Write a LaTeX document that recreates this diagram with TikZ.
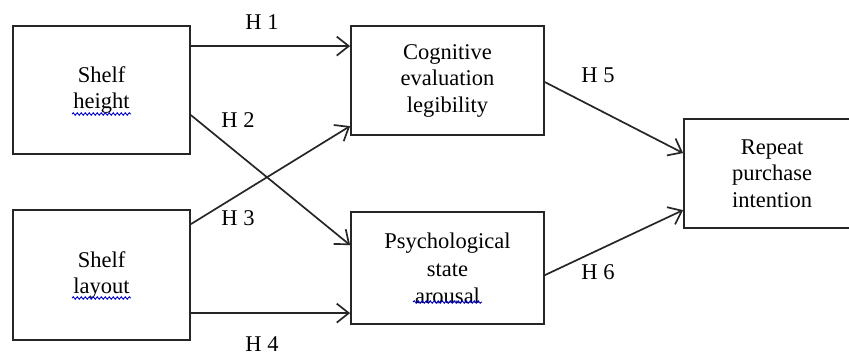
\documentclass[tikz,border=0pt]{standalone}
\usepackage{fontspec}
\setmainfont{Liberation Serif}
\usetikzlibrary{arrows.meta,decorations.pathmorphing}
\begin{document}
\begin{tikzpicture}[x=1pt,y=-1pt,
  box/.style={draw=black!85,line width=1.8pt,align=center,inner sep=0pt,
    font=\fontsize{22.5}{26.5}\selectfont},
  arr/.style={draw=black!85,line width=1.7pt,-{Straight Barb[length=12pt,width=19pt,line width=1.7pt]}},
  lbl/.style={font=\fontsize{22.5}{26.5}\selectfont,inner sep=0pt},
  wave/.style={draw=blue!80!black,line width=0.9pt,decorate,
    decoration={snake,amplitude=1.2pt,segment length=4pt}}]
\useasboundingbox (0,0) rectangle (849,356);
\clip (0,0) rectangle (849,356);
\node[box,minimum width=177pt,minimum height=128pt] (A) at (101.5,90) {Shelf\\height};
\node[box,minimum width=177pt,minimum height=130pt] (B) at (101.5,275) {Shelf\\layout};
\node[box,minimum width=193pt,minimum height=109pt] (C) at (447.5,80.5) {Cognitive\\evaluation\\legibility};
\node[box,minimum width=193pt,minimum height=112pt] (D) at (447.5,268) {Psychological\\[2pt]state\\arousal};
\node[box,minimum width=176pt,minimum height=109pt] (E) at (772,173.5) {Repeat\\purchase\\intention};
% spell-check underlines
\draw[wave] (72,114) -- (131,114);
\draw[wave] (72,298) -- (131,298);
\draw[wave] (413,302) -- (482,302);
% connectors
\coordinate (a1) at ([shift={(0,21)}]A.north east);
\coordinate (a2) at ([shift={(0,90)}]A.north east);
\coordinate (b1) at ([shift={(0,15)}]B.north east);
\coordinate (b2) at ([shift={(0,104)}]B.north east);
\coordinate (c2) at ([shift={(0,101)}]C.north west);
\coordinate (d1) at ([shift={(0,34)}]D.north west);
\coordinate (c3) at ([shift={(0,57)}]C.north east);
\coordinate (d3) at ([shift={(0,64)}]D.north east);
\coordinate (e1) at ([shift={(0,35)}]E.north west);
\coordinate (e2) at ([shift={(0,92)}]E.north west);
\draw[arr] (a1) -- (a1 -| C.west);
\draw[arr] (a2) -- (d1);
\draw[arr] (b1) -- (c2);
\draw[arr] (b2) -- (b2 -| D.west);
\draw[arr] (c3) -- (e1);
\draw[arr] (d3) -- (e2);
% labels
\node[lbl] (h1) at (262,22) {H 1};
\node[lbl] (h2) at (238,120) {H 2};
\node[lbl] (h3) at (238,218) {H 3};
\node[lbl] (h4) at (262,344) {H 4};
\node[lbl] (h5) at (598,75) {H 5};
\node[lbl] (h6) at (598,272) {H 6};
\end{tikzpicture}
\end{document}
